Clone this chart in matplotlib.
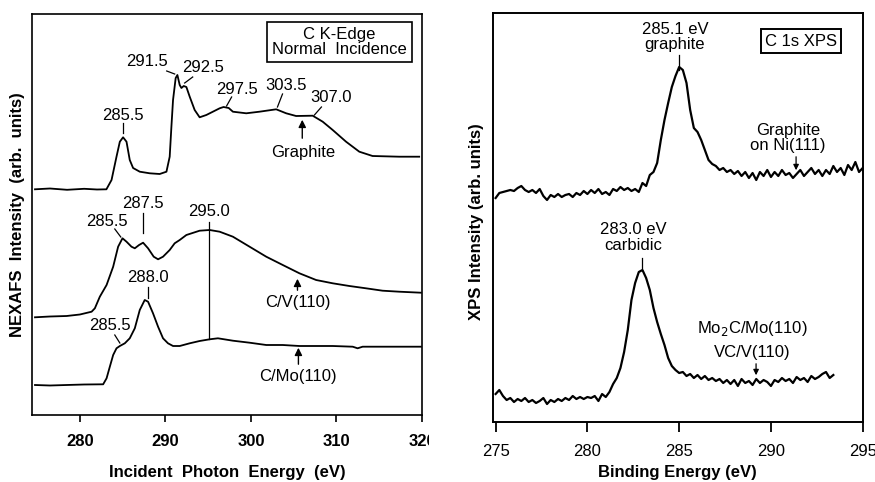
import numpy as np
import matplotlib
matplotlib.use('Agg')
import matplotlib.pyplot as plt
from matplotlib.transforms import Bbox, TransformedBbox

plt.rcParams['font.family'] = ['Liberation Sans', 'DejaVu Sans']

# ---------------- NEXAFS data (left) ----------------
graphite_e = [274.75, 276.5, 278.5, 280.5, 282.0, 283.1, 283.7, 284.28, 284.67, 285.05,
              285.45, 285.83, 286.22, 287.0, 288.17, 289.33, 290.12, 290.5, 290.7, 290.89,
              291.2, 291.4, 291.67, 291.87, 292.14, 292.45, 292.84, 293.42, 294.0, 294.78,
              295.55, 296.34, 296.8, 297.4, 297.89, 299.45, 301.0, 302.95, 304.12, 305.28,
              307.22, 308.39, 309.56, 311.12, 312.67, 314.22, 317.34, 319.67]
graphite_i = [225.7, 226.5, 225.2, 226.2, 225.5, 225.7, 235, 258.3, 273.3, 277.7,
              273.3, 255, 247, 243.3, 241.7, 241, 243.3, 258.3, 288.3, 315,
              337, 340, 330, 327, 329, 328, 318.3, 305, 297.7, 300,
              303.3, 306.7, 308, 307, 303.3, 301.7, 303.3, 305.7, 301.7, 299,
              299.3, 293.3, 285, 273.3, 263.3, 259, 258.3, 258.3]

cv_e = [274.75, 276.5, 278.45, 280.0, 281.37, 281.75, 282.33, 283.12, 283.89, 284.47,
        284.98, 285.45, 286.03, 286.42, 286.92, 287.39, 287.97, 288.63, 289.14, 289.72,
        290.5, 291.08, 291.67, 292.45, 294.0, 295.17, 296.34, 297.89, 299.84, 301.79,
        303.72, 305.67, 307.62, 309.56, 311.51, 313.45, 315.39, 317.34, 319.87]
cv_i = [97.7, 98.5, 99, 100.5, 103.3, 106.7, 118.3, 130, 148.3, 168.3,
        176.7, 173.3, 168.3, 166.7, 170, 172.3, 166.7, 158.3, 155.7, 158.3,
        165, 171.7, 175, 180, 184.3, 185, 183.3, 178.3, 168.3, 158.3,
        150, 141.7, 135, 131.7, 129, 126.7, 124.3, 123.3, 122.3]

cmo_e = [274.75, 276.5, 278.45, 280.5, 282.72, 283.12, 283.5, 283.89, 284.28, 284.67,
         285.25, 285.83, 286.42, 287.0, 287.58, 287.97, 288.55, 289.14, 289.72, 290.3,
         290.89, 291.67, 292.84, 294.0, 295.17, 296.14, 297.89, 299.84, 301.79, 303.72,
         305.67, 309.56, 311.9, 312.47, 313.06, 315.39, 319.87]
cmo_i = [30, 29.5, 30, 30.5, 30.7, 36.7, 48.3, 60, 66.7, 69,
         71.7, 76.7, 86.7, 105, 115, 113.3, 101.7, 88.3, 76.7, 71.7,
         69, 69, 71.7, 74, 75.7, 76.7, 74.3, 72.3, 70, 70,
         69, 69, 68.3, 66.7, 68.3, 68.3, 68.3]

nexafs_ticks = [280, 290, 300, 310, 320]

# ---------------- XPS data (right) ----------------
xps_graphite_i = [224, 229, 230, 231, 232, 231, 234, 236, 232, 230,
                  232, 229, 233, 226, 222, 227, 225, 228, 225, 227,
                  228, 225, 229, 227, 231, 228, 232, 229, 233, 228,
                  230, 227, 233, 231, 235, 232, 234, 231, 233, 230,
                  239, 236, 247, 250, 259, 282, 302, 319, 335, 346,
                  355, 352, 339, 312, 294, 290, 282, 272, 262, 258,
                  256, 252, 254, 250, 252, 248, 251, 246, 250, 244,
                  249, 242, 250, 246, 252, 245, 250, 246, 252, 247,
                  249, 244, 248, 252, 246, 250, 254, 248, 252, 246,
                  252, 248, 256, 250, 254, 247, 257, 252, 260, 250,
                  254]
xps_graphite_e = np.linspace(275.0, 295.0, len(xps_graphite_i))

xps_carbide_i = [28, 32, 26, 22, 24, 20, 23, 21, 24, 20,
                 22, 19, 21, 24, 18, 22, 20, 23, 21, 24,
                 22, 26, 23, 25, 23, 25, 24, 26, 21, 28,
                 25, 30, 38, 44, 54, 70, 92, 122, 139, 150,
                 152, 144, 132, 114, 100, 88, 77, 64, 56, 52,
                 49, 50, 46, 48, 44, 47, 43, 46, 42, 44,
                 41, 43, 39, 42, 38, 42, 36, 43, 39, 41,
                 37, 43, 39, 42, 40, 36, 42, 40, 44, 41,
                 43, 39, 45, 42, 44, 40, 46, 43, 45, 48,
                 50, 44, 47]
xps_carbide_e = np.linspace(275.0, 293.4, len(xps_carbide_i))

xps_ticks = [275, 280, 285, 290, 295]

# ---------------- Figure ----------------
fig = plt.figure(figsize=(8.75, 4.82), dpi=100)
W, H = 875.0, 482.0
ax1 = fig.add_axes([32 / W, 1 - 415 / H, 390 / W, 401 / H])
ax2 = fig.add_axes([492.7 / W, 1 - 422 / H, 370 / W, 409 / H])

FS = 12
lk = dict(color='black', lw=0.9)

# ---- left panel ----
ax1.plot(graphite_e, graphite_i, color='black', lw=1.3)
ax1.plot(cv_e, cv_i, color='black', lw=1.3)
ax1.plot(cmo_e, cmo_i, color='black', lw=1.3)
ax1.set_xlim(274.4, 320)
ax1.set_ylim(0, 401)
ax1.set_yticks([])
ax1.set_xticks(nexafs_ticks)
ax1.set_xticklabels([str(t) for t in nexafs_ticks], fontweight='bold')
ax1.tick_params(axis='x', direction='out', length=5, width=1.2, pad=9, labelsize=FS)
for s in ax1.spines.values():
    s.set_linewidth(1.2)

def num(ax, x, y, s, **kw):
    ax.text(x, y, s, ha='center', va='center', fontsize=FS, **kw)

# graphite annotations
num(ax1, 285.02, 300, '285.5')
ax1.plot([285.02, 285.02], [292, 282], **lk)
num(ax1, 287.82, 353, '291.5')
ax1.plot([290.15, 291.08], [344, 341], **lk)
num(ax1, 294.35, 347, '292.5')
ax1.plot([292.25, 293.19], [332, 338], **lk)
num(ax1, 298.32, 326, '297.5')
ax1.plot([297.15, 297.74], [309, 318], **lk)
num(ax1, 304.15, 330, '303.5')
ax1.plot([303.1, 303.69], [308, 321], **lk)
num(ax1, 309.4, 317, '307.0')
ax1.plot([307.42, 308.24], [300, 308], **lk)
num(ax1, 306.14, 262, 'Graphite')
ax1.annotate('', xy=(306.0, 298), xytext=(306.0, 274),
             arrowprops=dict(arrowstyle='-|>', color='black', lw=1.0, mutation_scale=11))
ax1.text(310.34, 373, 'C K-Edge\nNormal  Incidence', ha='center', va='center',
         fontsize=FS, linespacing=1.05,
         bbox=dict(boxstyle='square,pad=0.3', fc='white', ec='black', lw=1.2))

# C/V annotations
num(ax1, 283.15, 193, '285.5')
ax1.plot([284.08, 284.78], [186, 178], **lk)
num(ax1, 287.35, 212, '287.5')
ax1.plot([287.35, 287.35], [202, 182], **lk)
num(ax1, 295.05, 204, '295.0')
ax1.plot([295.05, 295.05], [193, 76], **lk)
num(ax1, 305.44, 112, 'C/V(110)')
ax1.annotate('', xy=(305.44, 139), xytext=(305.44, 122),
             arrowprops=dict(arrowstyle='-|>', color='black', lw=1.0, mutation_scale=11))

# C/Mo annotations
num(ax1, 287.93, 137, '288.0')
ax1.plot([287.93, 287.93], [128, 117], **lk)
num(ax1, 283.5, 89, '285.5')
ax1.plot([284.08, 284.67], [80, 72], **lk)
num(ax1, 305.55, 38, 'C/Mo(110)')
ax1.annotate('', xy=(305.55, 70), xytext=(305.55, 48),
             arrowprops=dict(arrowstyle='-|>', color='black', lw=1.0, mutation_scale=11))

ax1.set_xlabel('Incident  Photon  Energy  (eV)', fontsize=FS, fontweight='bold', va='top')
ax1.xaxis.set_label_coords(0.5, (415 - 465) / 401)
ax1.set_ylabel('NEXAFS  Intensity  (arb.  units)', fontsize=FS, fontweight='bold', va='center')
ax1.yaxis.set_label_coords((18 - 32) / 390, 0.5)

# ---- right panel ----
ax2.plot(xps_graphite_e, xps_graphite_i, color='black', lw=1.6)
ax2.plot(xps_carbide_e, xps_carbide_i, color='black', lw=1.6)
ax2.set_xlim(274.84, 295.0)
ax2.set_ylim(0, 409)
ax2.set_yticks([])
ax2.set_xticks(xps_ticks)
ax2.tick_params(axis='x', direction='out', length=7, width=1.3, pad=9, labelsize=FS)
for s in ax2.spines.values():
    s.set_linewidth(1.4)

ax2.text(284.77, 384.5, '285.1 eV\ngraphite', ha='center', va='center', fontsize=FS,
         linespacing=1.0)
ax2.plot([284.99, 284.99], [367, 352], **lk)
ax2.text(291.64, 381, 'C 1s XPS', ha='center', va='center', fontsize=FS,
         bbox=dict(boxstyle='square,pad=0.25', fc='white', ec='black', lw=1.4))
ax2.text(290.93, 284, 'Graphite\non Ni(111)', ha='center', va='center', fontsize=FS,
         linespacing=1.0)
ax2.annotate('', xy=(291.37, 249), xytext=(291.37, 268),
             arrowprops=dict(arrowstyle='-|>', color='black', lw=0.9, mutation_scale=8))
ax2.text(282.48, 184.5, '283.0 eV\ncarbidic', ha='center', va='center', fontsize=FS,
         linespacing=1.0)
ax2.plot([282.97, 282.97], [164, 154], **lk)
ax2.text(288.97, 94, 'Mo$_2$C/Mo(110)', ha='center', va='center', fontsize=FS)
ax2.text(288.97, 70, 'VC/V(110)', ha='center', va='center', fontsize=FS)
ax2.annotate('', xy=(289.19, 44), xytext=(289.19, 61),
             arrowprops=dict(arrowstyle='-|>', color='black', lw=0.9, mutation_scale=8))

ax2.set_xlabel('Binding Energy (eV)', fontsize=FS, fontweight='bold', va='top')
ax2.xaxis.set_label_coords(0.5, (422 - 465) / 409)
ax2.set_ylabel('XPS Intensity (arb. units)', fontsize=FS, fontweight='bold', va='center')
ax2.yaxis.set_label_coords((477 - 492.7) / 370, (422 - 222) / 409)

# the reference crops the "320" label at the panel edge
fig.canvas.draw()
clip = TransformedBbox(Bbox.from_extents(0, 0, 428.5 / W, 1), fig.transFigure)
for tk in ax1.xaxis.get_major_ticks():
    tk.label1.set_clip_box(clip)
    tk.label1.set_clip_on(True)

fig.savefig('out.png', dpi=100)
